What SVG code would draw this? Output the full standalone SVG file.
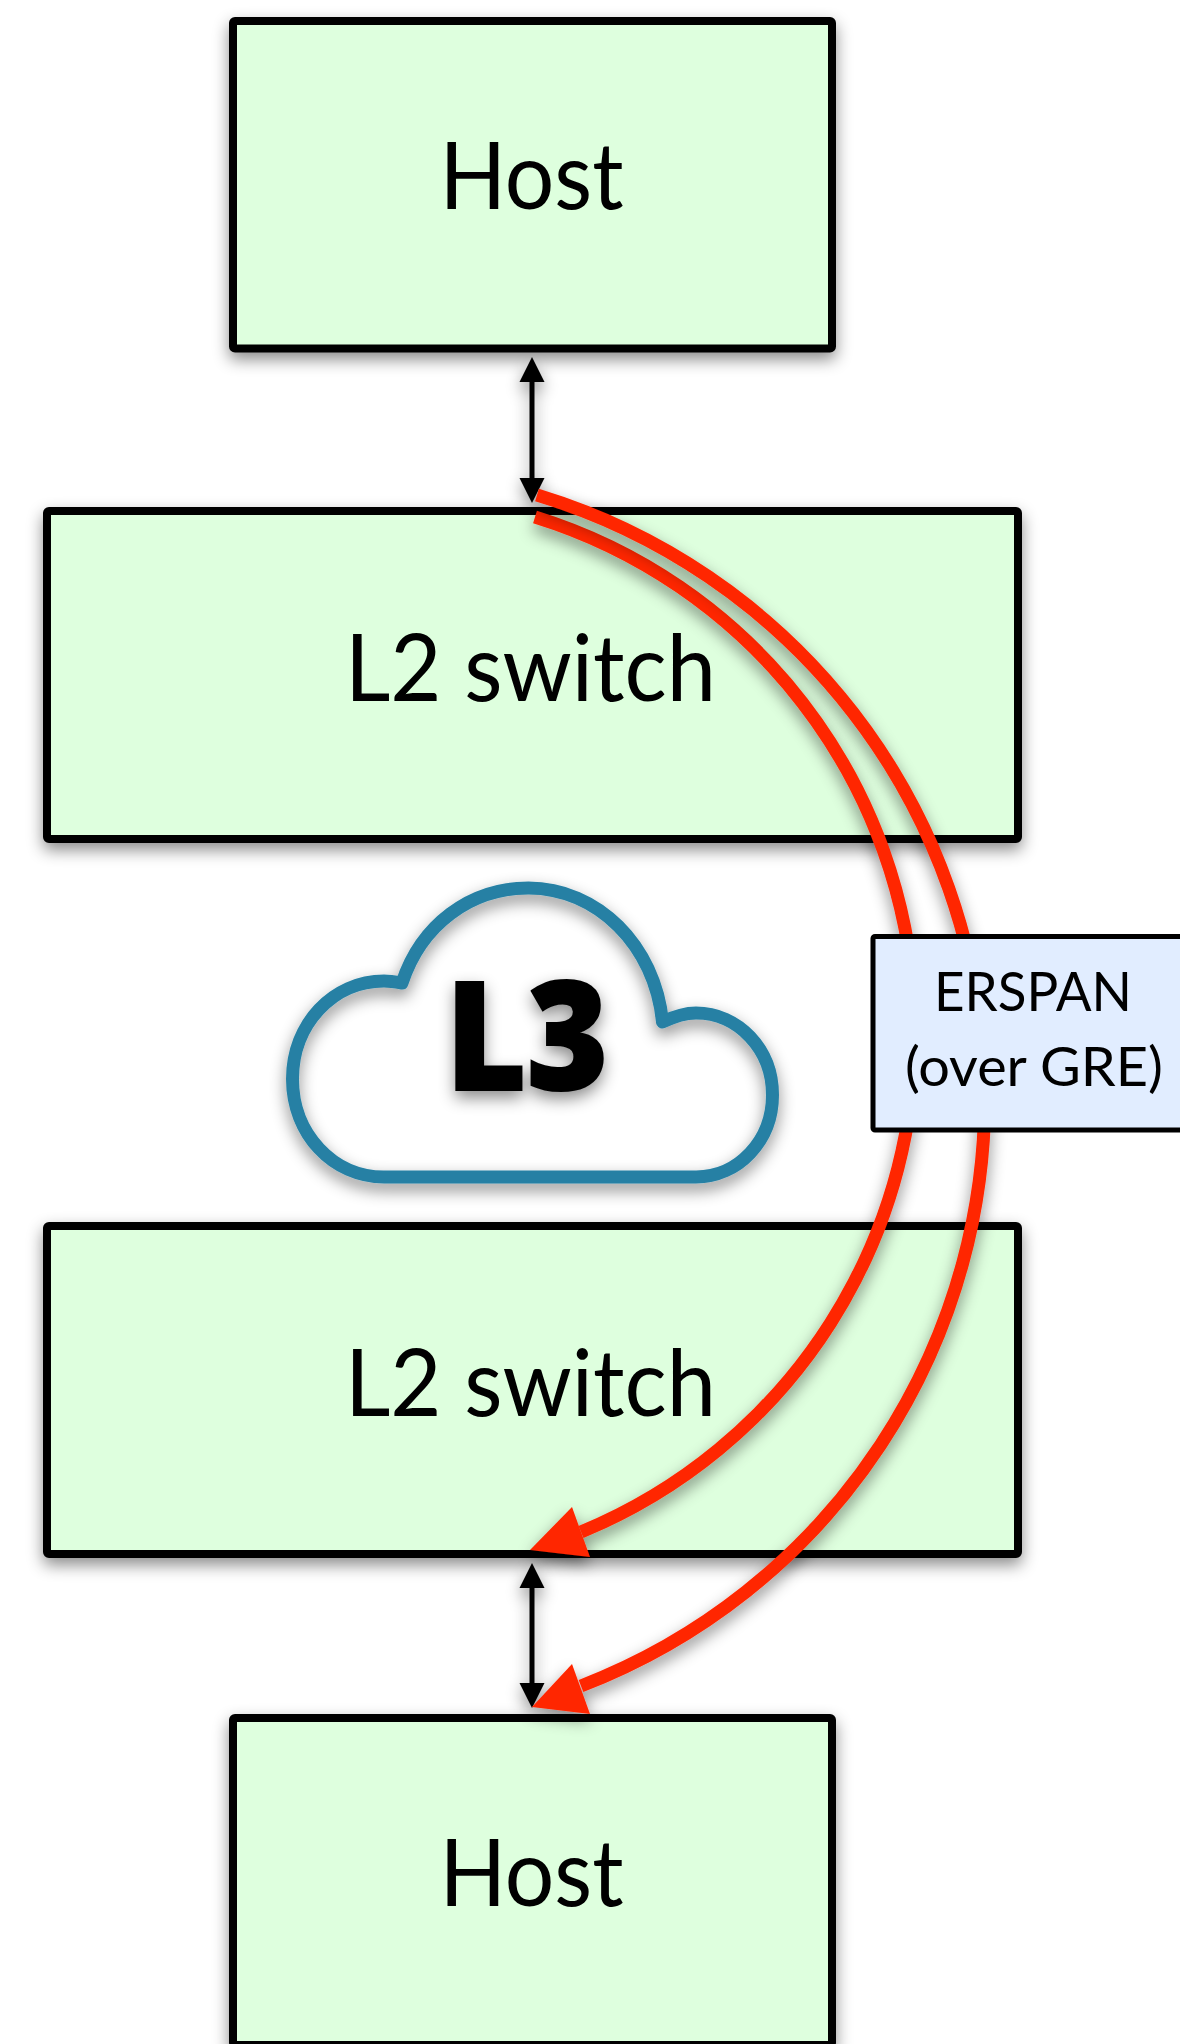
<svg xmlns="http://www.w3.org/2000/svg" width="1180" height="2044" viewBox="0 0 1180 2044">
<style>
.box{fill:#deffde;stroke:#000;stroke-width:8;stroke-linejoin:round}
.lbl{font-family:Lato,"Open Sans",sans-serif;fill:#000;text-anchor:middle}
.big{font-size:94px}
.small{font-size:55px}
.red{fill:none;stroke:#ff2600;stroke-width:13}
.head{fill:#ff2600}
.link{stroke:#000;stroke-width:5;fill:none;marker-start:url(#tip);marker-end:url(#tip)}
</style>
<defs>
<filter id="sh" filterUnits="userSpaceOnUse" x="0" y="0" width="1180" height="2044">
<feDropShadow dx="0" dy="7" stdDeviation="8" flood-color="#000" flood-opacity="0.45"/>
</filter>
<marker id="tip" markerUnits="userSpaceOnUse" markerWidth="26" markerHeight="26" refX="0" refY="13" orient="auto-start-reverse">
<path d="M0 0.5L25 13L0 25.500Z" fill="#000"/>
</marker>
</defs>
<g id="host-top" filter="url(#sh)"><rect class="box" x="233" y="21" width="599" height="327.500" rx="2"/></g>
<g id="l2-top" filter="url(#sh)"><rect class="box" x="47" y="511" width="971" height="328" rx="2"/></g>
<g id="l2-bottom" filter="url(#sh)"><rect class="box" x="47" y="1226" width="971" height="328" rx="2"/></g>
<g id="host-bottom" filter="url(#sh)"><rect class="box" x="233" y="1718" width="599" height="327" rx="2"/></g>
<text class="lbl big" x="531.500" y="209" textLength="184" lengthAdjust="spacingAndGlyphs">Host</text>
<text class="lbl big" x="530.500" y="701" textLength="371" lengthAdjust="spacingAndGlyphs">L2 switch</text>
<text class="lbl big" x="530.500" y="1416" textLength="371" lengthAdjust="spacingAndGlyphs">L2 switch</text>
<text class="lbl big" x="531.500" y="1906" textLength="184" lengthAdjust="spacingAndGlyphs">Host</text>
<g id="cloud">
<path filter="url(#sh)" d="M384 1177H696C738 1177 772.500 1141 772.500 1095C772.500 1049 738 1013 696 1013C684 1013 673 1017 662.500 1022C655 945 597 888 528.500 888C470 888 421 925 402 983C396 982 390 981 384 981C333 981 292.500 1024 292.500 1079C292.500 1134 333 1177 384 1177Z" fill="none" stroke="#2780a4" stroke-width="13" stroke-linejoin="round"/>
<text x="527" y="1090" filter="url(#sh)" font-family="Open Sans,sans-serif" font-weight="800" font-size="151" text-anchor="middle" fill="#000" stroke="#000" stroke-width="2" textLength="163" lengthAdjust="spacingAndGlyphs">L3</text>
</g>
<g id="connectors">
<g filter="url(#sh)">
<line class="link" x1="532" y1="382" x2="532" y2="478"/>
<line class="link" x1="532" y1="1588" x2="532" y2="1683"/>
</g>
<g filter="url(#sh)">
<path class="red" d="M535 517A540 540 0 0 1 581 1532"/>
<polygon class="head" points="530,1550 572,1507 590,1557"/>
</g>
<g filter="url(#sh)">
<path class="red" d="M537 495A630 630 0 0 1 581 1686"/>
<polygon class="head" points="532,1707 572,1664 590,1714"/>
</g>
</g>
<g id="erspan">
<rect x="873" y="936.500" width="320" height="193.500" rx="2" fill="#e1edff" stroke="#000" stroke-width="5" stroke-linejoin="round"/>
<text class="lbl small" x="1033" y="1011" textLength="198" lengthAdjust="spacingAndGlyphs">ERSPAN</text>
<text class="lbl small" x="1034" y="1086" textLength="258" lengthAdjust="spacingAndGlyphs">(over GRE)</text>
</g>
</svg>
